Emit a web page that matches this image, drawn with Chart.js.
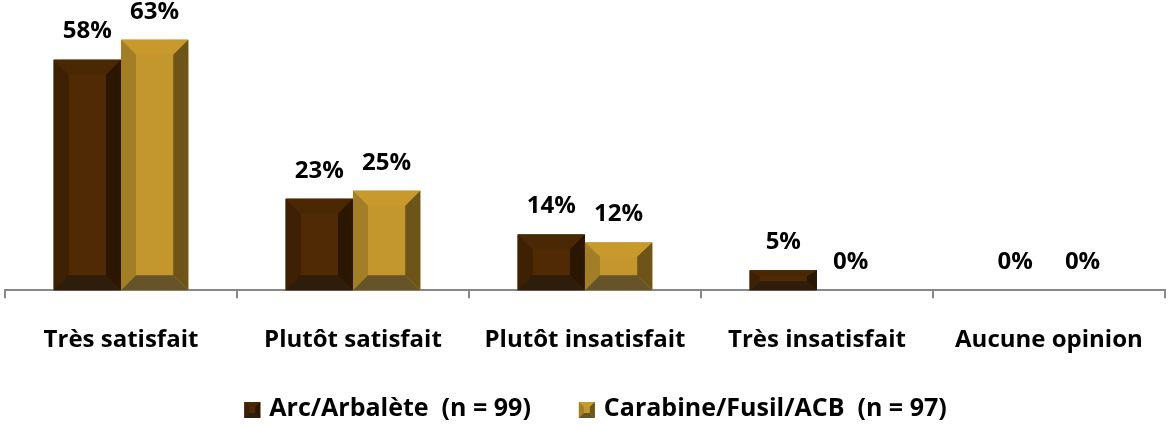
<!DOCTYPE html>
<html>
<head>
<meta charset="utf-8">
<script src="https://cdn.jsdelivr.net/npm/chart.js@4.4.1/dist/chart.umd.min.js"></script>
<style>
  html, body { margin: 0; padding: 0; background: #fff; }
  #wrap { width: 1171px; height: 427px; }
</style>
</head>
<body>
<div id="wrap"><canvas id="chart" width="1171" height="427"></canvas></div>
<script>
// Chart data
const categories = ['Très satisfait', 'Plutôt satisfait', 'Plutôt insatisfait', 'Très insatisfait', 'Aucune opinion'];
const arcValues = [58, 23, 14, 5, 0];
const carabineValues = [63, 25, 12, 0, 0];
const seriesNames = ['Arc/Arbalète  (n = 99)', 'Carabine/Fusil/ACB  (n = 97)'];

const FONT = "'Open Sans'";
const FONT_SIZE = 24;

// face, top, left, right, bottom
const bevelColors = [
    { face: '#4f2a05', top: '#4a2804', left: '#3e2104', right: '#2b1602', bottom: '#2f1d0c' },
    { face: '#c3962e', top: '#c8992c', left: '#a27e26', right: '#6d5419', bottom: '#675329' }
];

function drawBevel(ctx, x0, x1, y0, y1, c, size) {
    const h = y1 - y0;
    if (h <= 0) return;
    const b = Math.min(size, h / 2, (x1 - x0) / 2);
    const bt = Math.min(b, h * 0.3);
    const bb = Math.min(b, h * 0.45);
    const poly = (pts, color) => {
        ctx.beginPath();
        ctx.moveTo(pts[0][0], pts[0][1]);
        for (let i = 1; i < pts.length; i++) ctx.lineTo(pts[i][0], pts[i][1]);
        ctx.closePath();
        ctx.fillStyle = color;
        ctx.fill();
    };
    poly([[x0, y0], [x1, y0], [x1, y1], [x0, y1]], c.face);
    poly([[x0, y0], [x1, y0], [x1 - b, y0 + bt], [x0 + b, y0 + bt]], c.top);
    poly([[x0, y0], [x0 + b, y0 + bt], [x0 + b, y1 - bb], [x0, y1]], c.left);
    poly([[x1, y0], [x1, y1], [x1 - b, y1 - bb], [x1 - b, y0 + bt]], c.right);
    poly([[x0, y1], [x0 + b, y1 - bb], [x1 - b, y1 - bb], [x1, y1]], c.bottom);
}

const bevelPlugin = {
    id: 'bevel',
    afterDatasetsDraw(chart) {
        const ctx = chart.ctx;
        ctx.save();
        chart.data.datasets.forEach((ds, i) => {
            chart.getDatasetMeta(i).data.forEach(el => {
                const w = el.width;
                drawBevel(ctx, el.x - w / 2, el.x + w / 2, el.y, el.base, bevelColors[i], 15);
            });
        });
        ctx.restore();
    }
};

const valueLabels = {
    id: 'valueLabels',
    afterDatasetsDraw(chart) {
        const ctx = chart.ctx;
        ctx.save();
        ctx.font = 'bold ' + FONT_SIZE + 'px ' + FONT;
        ctx.fillStyle = '#000';
        ctx.textAlign = 'center';
        ctx.textBaseline = 'middle';
        chart.data.datasets.forEach((ds, i) => {
            chart.getDatasetMeta(i).data.forEach((el, j) => {
                ctx.fillText(ds.data[j] + '%', el.x, el.y - 28);
            });
        });
        ctx.restore();
    }
};

// legend drawn by hand below the axis
const bottomLegend = {
    id: 'bottomLegend',
    afterDraw(chart) {
        const ctx = chart.ctx;
        ctx.save();
        ctx.font = 'bold 25px ' + FONT;
        const box = 16, gap = 9, itemGap = 48;
        const widths = seriesNames.map(t => ctx.measureText(t).width);
        const total = widths.reduce((a, w) => a + box + gap + w, 0) + itemGap * (seriesNames.length - 1);
        let x = chart.width / 2 + 10 - total / 2;
        const y = chart.height - 18;
        ctx.textBaseline = 'middle';
        seriesNames.forEach((t, i) => {
            drawBevel(ctx, x, x + box, y - box / 2 + 1, y + box / 2 + 1, bevelColors[i], 5);
            x += box + gap;
            ctx.fillStyle = '#000';
            ctx.fillText(t, x, y);
            x += widths[i] + itemGap;
        });
        ctx.restore();
    }
};

new Chart(document.getElementById('chart'), {
    type: 'bar',
    data: {
        labels: categories,
        datasets: [
            { label: seriesNames[0], data: arcValues, backgroundColor: bevelColors[0].face },
            { label: seriesNames[1], data: carabineValues, backgroundColor: bevelColors[1].face }
        ]
    },
    options: {
        responsive: false,
        animation: false,
        layout: { padding: { left: 5, right: 2, top: 0, bottom: 44 } },
        categoryPercentage: 0.58,
        barPercentage: 1,
        scales: {
            x: {
                grid: { drawOnChartArea: false, offset: true, color: '#888', tickLength: 8, lineWidth: 2 },
                border: { color: '#888', width: 2 },
                ticks: { color: '#000', font: { family: FONT, weight: 'bold', size: FONT_SIZE }, padding: 28 }
            },
            y: { display: false, min: 0, max: 73 }
        },
        plugins: {
            tooltip: { enabled: false },
            legend: { display: false }
        }
    },
    plugins: [bevelPlugin, valueLabels, bottomLegend]
});
</script>
</body>
</html>
